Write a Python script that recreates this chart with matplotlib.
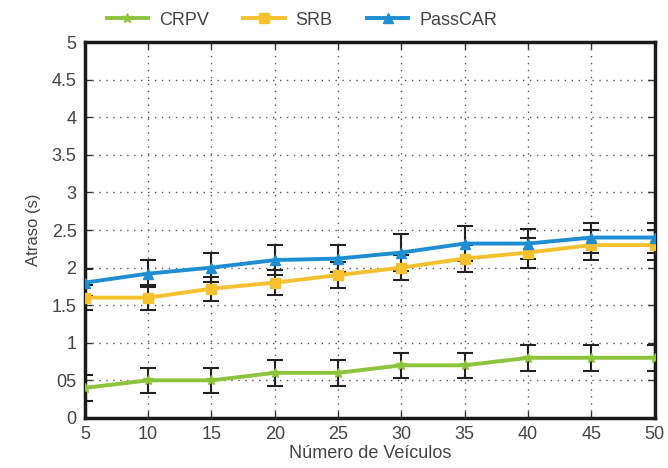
import numpy as np
import matplotlib
matplotlib.use("Agg")
import matplotlib.pyplot as plt

plt.rcParams['font.family'] = ['Liberation Sans', 'DejaVu Sans']

veiculos = [5, 10, 15, 20, 25, 30, 35, 40, 45, 50]
crpv = [0.4, 0.5, 0.5, 0.6, 0.6, 0.7, 0.7, 0.8, 0.8, 0.8]
srb = [1.6, 1.6, 1.72, 1.8, 1.9, 2.0, 2.12, 2.2, 2.3, 2.3]
passcar = [1.8, 1.92, 2.0, 2.1, 2.12, 2.2, 2.32, 2.32, 2.4, 2.4]
err_crpv = [0.17, 0.17, 0.17, 0.17, 0.17, 0.17, 0.17, 0.17, 0.17, 0.17]
err_srb = [0.17, 0.17, 0.16, 0.17, 0.17, 0.17, 0.18, 0.2, 0.2, 0.2]
err_passcar = [0.18, 0.18, 0.19, 0.2, 0.18, 0.25, 0.23, 0.2, 0.2, 0.2]

yticks = [0, 0.5, 1, 1.5, 2, 2.5, 3, 3.5, 4, 4.5, 5]
ytick_labels = ['0', '05', '1', '1.5', '2', '2.5', '3', '3.5', '4', '4.5', '5']

fig = plt.figure(figsize=(6.68, 4.68), dpi=100)
ax = fig.add_axes([0.127, 0.107, 0.853, 0.803])

series = [
    ('CRPV', crpv, err_crpv, '#8cc43c', '*'),
    ('SRB', srb, err_srb, '#f6c12f', 's'),
    ('PassCAR', passcar, err_passcar, '#1e8dd2', '^'),
]
handles = []
for name, vals, err, col, mk in series:
    ax.errorbar(veiculos, vals, yerr=err, fmt='none', ecolor='#222222',
                elinewidth=1.5, capsize=6, capthick=1.5, zorder=2)
    h, = ax.plot(veiculos, vals, color=col, lw=2.8, marker=mk, ms=7,
                 markeredgecolor=col, label=name, zorder=3)
    handles.append(h)

ax.set_xlim(5, 50)
ax.set_ylim(0, 5)
ax.set_xticks(veiculos)
ax.set_yticks(yticks)
ax.set_yticklabels(ytick_labels)
ax.grid(True, color='#555555', linestyle=(0, (1, 4)), linewidth=1)
ax.tick_params(direction='in', length=5, width=1, top=True, right=True,
               labelsize=13, colors='#333333', labelcolor='#444444', pad=6)
for s in ax.spines.values():
    s.set_linewidth(2.5)
    s.set_color('#1a1a1a')

ax.set_xlabel('Número de Veículos', fontsize=13, color='#444444', labelpad=1)
ax.set_ylabel('Atraso (s)', fontsize=12, color='#444444', labelpad=8)

fig.legend(handles=handles, loc='upper center', bbox_to_anchor=(0.452, 1.01),
           ncol=3, frameon=False, fontsize=13, handlelength=2.3,
           handletextpad=0.6, columnspacing=1.9, labelcolor='#444444')

fig.savefig('out.png', dpi=100)
